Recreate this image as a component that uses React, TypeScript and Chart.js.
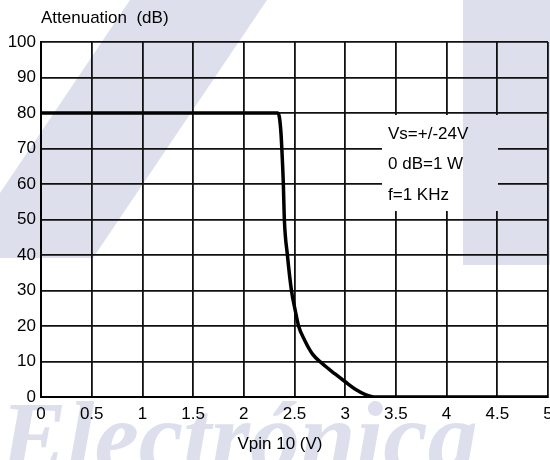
import React, { useEffect, useRef } from "react";
import { Chart, registerables } from "chart.js";

Chart.register(...registerables);

// Data
const xValues = [0, 2.33, 2.35, 2.365, 2.375, 2.39, 2.4, 2.43, 2.47, 2.51, 2.54, 2.6, 2.68, 2.77, 2.9, 3.0, 3.1, 3.2, 3.3, 5];
const yValues = [80, 80, 79, 75, 70, 60, 50, 40, 30, 24, 20, 16, 12, 9.5, 6.5, 4.3, 2.2, 0.7, 0, 0];
const yTitle = "Attenuation  (dB)";
const xTitle = "Vpin 10 (V)";
const noteLines = ["Vs=+/-24V", "0 dB=1 W", "f=1 KHz"];

const FONT = '"Liberation Sans", Arial, sans-serif';
const WM = "#dde0ec";

function drawWatermark(ctx: CanvasRenderingContext2D) {
  ctx.save();
  ctx.fillStyle = WM;
  ctx.beginPath();
  ctx.moveTo(130, 0);
  ctx.lineTo(267, 0);
  ctx.lineTo(93, 258);
  ctx.lineTo(0, 258);
  ctx.lineTo(0, 193);
  ctx.closePath();
  ctx.fill();
  ctx.fillRect(463, 0, 87, 265);
  ctx.font = 'italic bold 100px "Liberation Serif", "DejaVu Serif", serif';
  ctx.textBaseline = "alphabetic";
  ctx.textAlign = "left";
  ctx.fillText("Electrónica", 0, 470);
  ctx.restore();
}

const decor = {
  id: "decor",
  beforeDraw(chart: any) {
    const ctx = chart.ctx as CanvasRenderingContext2D;
    ctx.save();
    ctx.fillStyle = "#fff";
    ctx.fillRect(0, 0, chart.width, chart.height);
    ctx.restore();
    drawWatermark(ctx);
  },
  beforeDatasetsDraw(chart: any) {
    const ctx = chart.ctx as CanvasRenderingContext2D;
    ctx.save();
    ctx.beginPath();
    ctx.rect(382, 115, 116, 96);
    ctx.clip();
    ctx.fillStyle = "#fff";
    ctx.fillRect(382, 115, 116, 96);
    drawWatermark(ctx);
    ctx.restore();
  },
  afterDraw(chart: any) {
    const ctx = chart.ctx as CanvasRenderingContext2D;
    const area = chart.chartArea;
    ctx.save();
    ctx.fillStyle = "#000";
    ctx.font = `17px ${FONT}`;
    ctx.textBaseline = "middle";
    ctx.textAlign = "left";
    ctx.fillText(yTitle, area.left, 18);
    ctx.textAlign = "center";
    ctx.fillText(xTitle, 280, 444);
    ctx.textAlign = "left";
    const ys = [134, 164, 195];
    noteLines.forEach((t, i) => ctx.fillText(t, 388, ys[i]));
    ctx.restore();
  },
};

export default function App() {
  const ref = useRef<HTMLCanvasElement>(null);
  useEffect(() => {
    document.body.style.margin = "0";
    const canvas = ref.current!;
    const chart = new Chart(canvas, {
      type: "line",
      data: {
        datasets: [
          {
            data: xValues.map((x, i) => ({ x, y: yValues[i] })),
            borderColor: "#000",
            borderWidth: 3.5,
            pointRadius: 0,
            cubicInterpolationMode: "monotone",
            fill: false,
          },
        ],
      },
      options: {
        responsive: false,
        animation: false,
        layout: { padding: { top: 42, right: 2, left: 0, bottom: 0 } },
        plugins: { legend: { display: false }, tooltip: { enabled: false } },
        scales: {
          x: {
            type: "linear",
            min: 0,
            max: 5,
            ticks: {
              stepSize: 0.5,
              color: "#000",
              padding: 7,
              font: { size: 17, family: FONT },
              maxRotation: 0,
              autoSkip: false,
              callback: (v: any) => String(v),
            },
            grid: { color: "#111", lineWidth: 1.8, drawTicks: false },
            border: { display: true, color: "#000", width: 2 },
            afterFit: (s: any) => {
              s.height = 63;
              s.paddingLeft = 0;
              s.paddingRight = 0;
            },
          },
          y: {
            min: 0,
            max: 100,
            ticks: {
              stepSize: 10,
              color: "#000",
              padding: 5,
              font: { size: 17, family: FONT },
            },
            grid: { color: "#111", lineWidth: 1.8, drawTicks: false },
            border: { display: true, color: "#000", width: 2 },
            afterFit: (s: any) => {
              s.width = 41;
              s.paddingTop = 0;
              s.paddingBottom = 0;
            },
          },
        },
      },
      plugins: [decor],
    });
    return () => chart.destroy();
  }, []);
  return (
    <div style={{ width: 550, height: 460 }}>
      <canvas ref={ref} width={550} height={460} />
    </div>
  );
}
